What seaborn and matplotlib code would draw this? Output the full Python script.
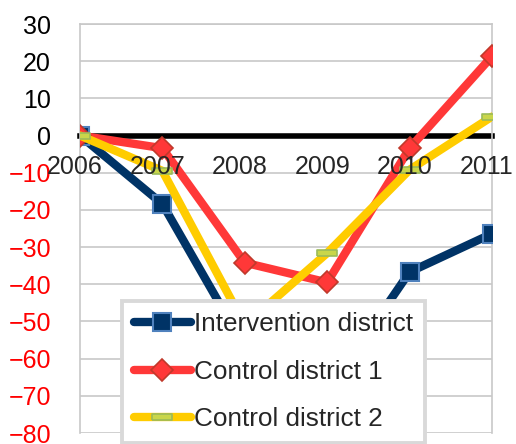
import numpy as np
import pandas as pd
import matplotlib
matplotlib.use("Agg")
import matplotlib.pyplot as plt
import matplotlib.transforms as mtransforms
import seaborn as sns

# values
years = [2006, 2007, 2008, 2009, 2010, 2011]
intervention = [0, -18.4, -57, -69, -36.7, -26.4]
control_1 = [0, -3.4, -34.2, -39.5, -3.4, 21.3]
control_2 = [0, -9.5, -51, -31.6, -9.2, 5.1]
labels = ["Intervention district", "Control district 1", "Control district 2"]
y_ticks = list(range(-80, 31, 10))

sns.set_style("white")
plt.rcParams["font.family"] = ["Liberation Sans", "DejaVu Sans"]

fig = plt.figure(figsize=(5.16, 4.44), dpi=100)
ax = fig.add_axes([80 / 516, 1 - 433 / 444, 412 / 516, 409 / 444])

grid_c = "#c8c8c8"
for yt in y_ticks:
    ax.axhline(yt, color=grid_c, lw=1.2, zorder=0)

dash = [(-1, -0.28), (1, -0.28), (1, 0.28), (-1, 0.28), (-1, -0.28)]
styles = [
    dict(color="#003366", marker="s", ms=13, mfc="#003366", mec="#4f81bd", mew=1.5),
    dict(color="#ff3838", marker="D", ms=11, mfc="#ff3838", mec="#c0392b", mew=1.2),
    dict(color="#ffcc00", marker=dash, ms=14, mfc="#c9d64a", mec="#9bbb59", mew=1.2),
]
series = [intervention, control_1, control_2]

for vals, lab, st in zip(series, labels, styles):
    sns.lineplot(x=years, y=vals, ax=ax, label=lab, lw=6, zorder=3, **st)

ax.set_xlim(2006, 2011)
ax.set_ylim(-80, 30)
ax.set_yticks(y_ticks)
ax.set_xticks(years)
ax.set_xticklabels([str(y) for y in years])

for side in ["left", "right", "top"]:
    ax.spines[side].set_color(grid_c)
    ax.spines[side].set_linewidth(1.2)
ax.spines["bottom"].set_position(("data", 0))
ax.spines["bottom"].set_color("black")
ax.spines["bottom"].set_linewidth(4)
ax.spines["bottom"].set_zorder(2)

# year labels sit on top of the lines
ax.xaxis.set_zorder(4)
ax.tick_params(axis="x", direction="out", length=5, width=3, color="black",
               labelsize=18, pad=9)
ax.tick_params(axis="y", direction="out", length=5.8, width=1.2, color=grid_c,
               labelsize=18, pad=15)
shift = mtransforms.ScaledTranslation(-5 / 100, 0, fig.dpi_scale_trans)
for lbl in ax.get_xticklabels():
    lbl.set_transform(lbl.get_transform() + shift)
for lbl, v in zip(ax.get_yticklabels(), y_ticks):
    lbl.set_color("red" if v < 0 else "black")

ax.set_xlabel("")
ax.set_ylabel("")

leg = ax.legend(loc="lower left", bbox_to_anchor=(122 / 516, 1 / 444),
                bbox_transform=fig.transFigure, fontsize=18.8, frameon=True,
                fancybox=False, framealpha=1, handlelength=2.2,
                handletextpad=0.1, labelspacing=0.9, borderpad=0.45,
                borderaxespad=0)
leg.get_frame().set_edgecolor("#d9d9d9")
leg.get_frame().set_linewidth(2.8)
leg.set_zorder(6)

fig.savefig("out.png", dpi=100)
